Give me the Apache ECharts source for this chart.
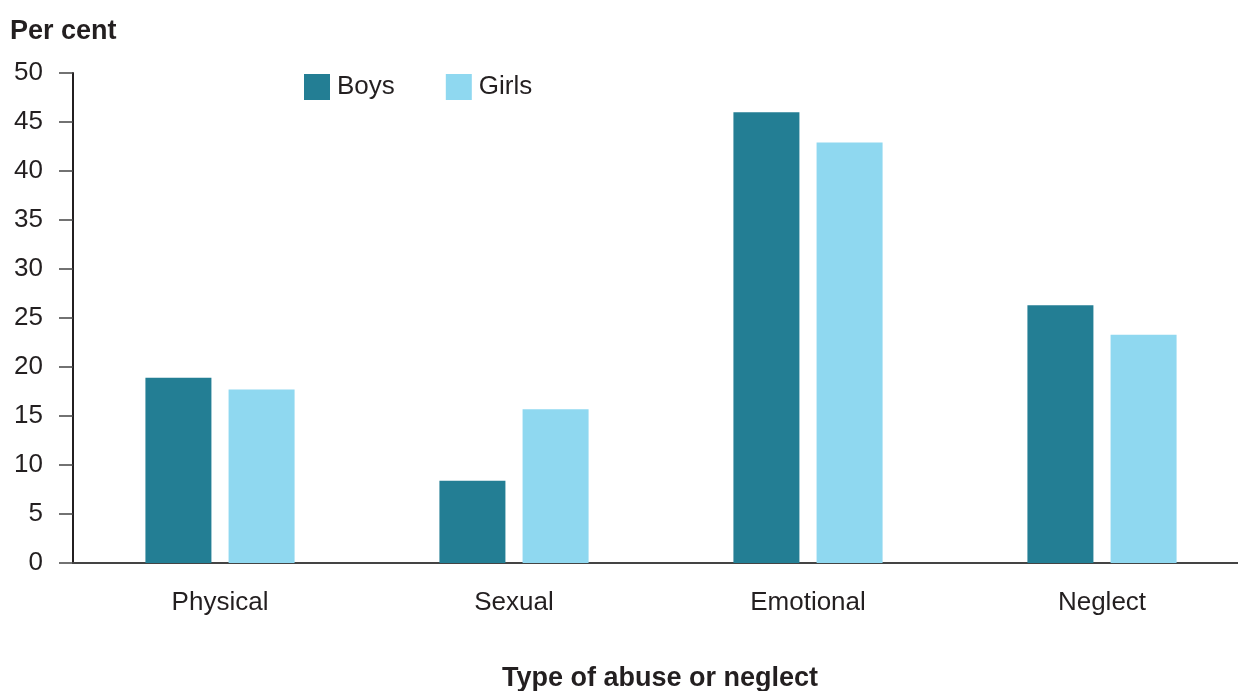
<!DOCTYPE html>
<html>
<head>
<meta charset="utf-8">
<script src="https://cdn.jsdelivr.net/npm/echarts@6/dist/echarts.min.js"></script>
<style>
html,body{margin:0;padding:0;background:#fff;}
#chart{width:1238px;height:691px;}
</style>
</head>
<body>
<div id="chart"></div>
<script>
const categories = ['Physical', 'Sexual', 'Emotional', 'Neglect'];
const boys = [18.9, 8.4, 46.0, 26.3];
const girls = [17.7, 15.7, 42.9, 23.3];
const yTicks = [0, 5, 10, 15, 20, 25, 30, 35, 40, 45, 50];

const chart = echarts.init(document.getElementById('chart'));
const font = 'Liberation Sans, Arial, sans-serif';
chart.setOption({
  animation: false,
  textStyle: { fontFamily: font },
  grid: { left: 73, width: 1176, top: 73, bottom: 128, containLabel: false, outerBoundsMode: 'none' },
  legend: {
    data: ['Boys', 'Girls'],
    left: 304, top: 74, padding: 0,
    itemWidth: 26, itemHeight: 26, itemGap: 51,
    icon: 'rect',
    textStyle: { fontSize: 26, color: '#231f20', fontFamily: font, padding: [0, 0, 0, 2] }
  },
  graphic: [
    { type: 'text', left: 10, top: 18, style: { text: 'Per cent', font: 'bold 27px ' + font, fill: '#231f20' } },
    { type: 'text', left: 502, top: 665, style: { text: 'Type of abuse or neglect', font: 'bold 27px ' + font, fill: '#231f20' } }
  ],
  xAxis: {
    type: 'category',
    data: categories,
    axisLine: { lineStyle: { color: '#444', width: 2 } },
    axisTick: { show: false },
    axisLabel: { fontSize: 26, color: '#231f20', margin: 27, fontFamily: font }
  },
  yAxis: {
    type: 'value',
    min: yTicks[0], max: yTicks[yTicks.length - 1], interval: 5,
    splitLine: { show: false },
    axisLine: { show: true, lineStyle: { color: '#231f20', width: 2 } },
    axisTick: { show: true, length: 14, lineStyle: { color: '#444', width: 1.5 } },
    axisLabel: { fontSize: 26, color: '#231f20', margin: 30, fontFamily: font }
  },
  series: [
    { name: 'Boys', type: 'bar', data: boys, barWidth: 66, barGap: '26%', itemStyle: { color: '#237e94' } },
    { name: 'Girls', type: 'bar', data: girls, barWidth: 66, itemStyle: { color: '#8fd8f0' } }
  ]
});
</script>
</body>
</html>
